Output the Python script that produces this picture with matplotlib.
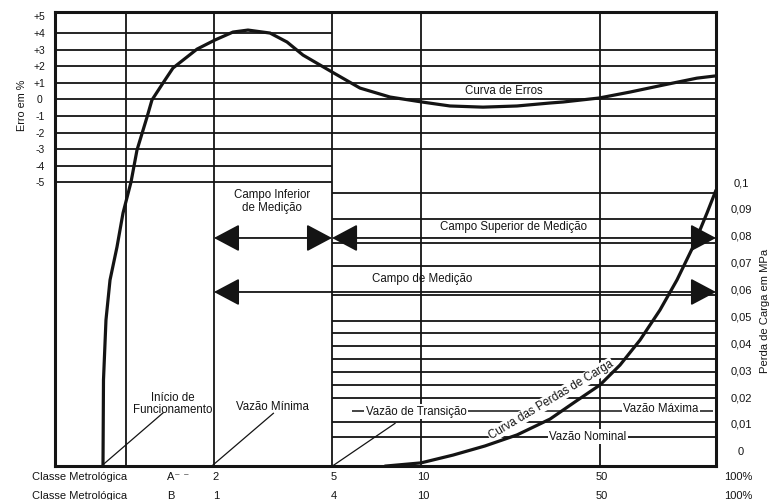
import numpy as np
import matplotlib
matplotlib.use("Agg")
import matplotlib.pyplot as plt
from matplotlib.patches import FancyArrowPatch
from matplotlib.transforms import blended_transform_factory

plt.rcParams['font.family'] = ['Liberation Sans', 'DejaVu Sans']

# ------------------------------------------------------------------ data
# schematic flow axis (class A flow values at the drawn verticals)
flow_breaks = [0, 1, 2, 5, 10, 50, 100]
flow_break_pos = [0.0, 0.1074, 0.2405, 0.4191, 0.5537, 0.8245, 1.0]
vertical_flows = [1, 2, 5, 10, 50]

# error curve (Curva de Erros): flow vs error in %
error_flow = [0.676, 0.683, 0.718, 0.775, 0.873, 0.958, 1.057, 1.125, 1.239,
              1.295, 1.420, 1.534, 1.807, 2.025, 2.483, 2.864, 3.424, 3.856,
              4.263, 5.0, 6.573, 8.258, 10.22, 16.48, 23.85, 31.45, 38.83,
              41.73, 49.78, 62.93, 77.16, 91.81, 99.57]
error_vals = [-22.12, -16.93, -13.31, -10.90, -8.91, -6.86, -4.99, -3.06, -1.07,
              -0.04, 0.98, 1.89, 3.03, 3.58, 4.06, 4.18, 4.00, 3.46,
              2.67, 1.65, 0.68, 0.14, -0.16, -0.40, -0.47, -0.40, -0.22,
              -0.16, 0.08, 0.44, 0.86, 1.28, 1.41]

# head-loss curve (Curva das Perdas de Carga): flow vs MPa
loss_flow = [7.98, 10.0, 17.15, 24.30, 31.45, 38.83, 44.41, 50.0, 58.62,
             67.24, 75.86, 83.19, 90.09, 96.12, 100.0]
loss_vals = [-0.0057, -0.0045, -0.0016, 0.0018, 0.0059, 0.0118, 0.0182, 0.0245,
             0.0319, 0.0412, 0.0524, 0.0636, 0.0759, 0.0885, 0.0970]

# grid levels
error_levels_left = [4, 3, 2, 1, 0, -1, -2, -3, -4, -5]
error_levels_right = [3, 2, 1, 0, -1, -2, -3]
pressure_levels = [0.0959, 0.0863, 0.0774, 0.0688, 0.0580, 0.0483, 0.0438,
                   0.0390, 0.0342, 0.0293, 0.0245, 0.0197, 0.0107, 0.0051]

# ticks
error_ticks = [5, 4, 3, 2, 1, 0, -1, -2, -3, -4, -5]
error_tick_labels = ['+5', '+4', '+3', '+2', '+1', '0', '-1', '-2', '-3', '-4', '-5']
pressure_ticks = [0.1, 0.09, 0.08, 0.07, 0.06, 0.05, 0.04, 0.03, 0.02, 0.01, 0.0]
pressure_tick_labels = ['0,1', '0,09', '0,08', '0,07', '0,06', '0,05', '0,04',
                        '0,03', '0,02', '0,01', '0']
class_ticks_flow = [2, 5, 10, 50, 100]
class_a_labels = ['2', '5', '10', '50', '100%']
class_b_labels = ['1', '4', '10', '50', '100%']

# measuring ranges (flow from, flow to, MPa level)
ranges = [(2, 5, 0.0792), (5, 100, 0.0792), (2, 100, 0.0591)]

ink = '#141414'

# ------------------------------------------------------------------ figure
fig = plt.figure(figsize=(7.73, 5.0), dpi=100)
fig.patch.set_facecolor('white')
ax = fig.add_axes([55 / 773, 34 / 500, 661 / 773, 454 / 500])


def fwd(x):
    return np.interp(x, flow_breaks, flow_break_pos)


def inv(u):
    return np.interp(u, flow_break_pos, flow_breaks)


ax.set_xscale('function', functions=(fwd, inv))
ax.set_xlim(0, 100)
ax.set_ylim(-22.12, 5.27)

ax2 = ax.twinx()
ax2.set_ylim(-0.00566, 0.1633)
ax2.patch.set_visible(False)

for sp in ax.spines.values():
    sp.set_linewidth(2.2)
    sp.set_color(ink)
for sp in ax2.spines.values():
    sp.set_visible(False)

# ticks
ax.set_xticks([])
ax.set_yticks(error_ticks)
ax.set_yticklabels(error_tick_labels)
ax.tick_params(axis='y', length=0, pad=11, labelsize=7.5, colors=ink)
for lbl in ax.get_yticklabels():
    lbl.set_horizontalalignment('center')

ax2.set_yticks(pressure_ticks)
ax2.set_yticklabels(pressure_tick_labels)
ax2.tick_params(axis='y', length=0, pad=18, labelsize=8, colors=ink)
for lbl in ax2.get_yticklabels():
    lbl.set_horizontalalignment('center')

# vertical lines
for f in vertical_flows:
    ax.axvline(f, color=ink, lw=1.3, zorder=1)

# upper grid
ax.hlines(error_levels_left, 0, 5, color=ink, lw=1.3, zorder=1)
ax.hlines(error_levels_right, 5, 100, color=ink, lw=1.3, zorder=1)

# lower grid
ax2.hlines(pressure_levels, 5, 100, color=ink, lw=1.3, zorder=1)

# error curve
ax.plot(error_flow, error_vals, color=ink, lw=2.3, zorder=5,
        solid_joinstyle='round', solid_capstyle='round')

# head-loss curve
ax2.plot(loss_flow, loss_vals, color=ink, lw=2.3, zorder=6,
         solid_joinstyle='round', solid_capstyle='round')

# measuring-range arrows
for f0, f1, lvl in ranges:
    arr = FancyArrowPatch((f0, lvl), (f1, lvl),
                          arrowstyle='<|-|>,head_length=1.6,head_width=0.85',
                          mutation_scale=10, lw=1.3, color=ink,
                          shrinkA=0, shrinkB=0, transform=ax2.transData, zorder=7)
    ax2.add_patch(arr)

fs = 8.3
box = dict(facecolor='white', edgecolor='none', pad=1.0)

# texts in error region
ax.text(28.55, 0.5, 'Curva de Erros', fontsize=fs, ha='center', va='center', color=ink)
ax.text(3.475, -6.17, 'Campo Inferior\nde Medição', fontsize=fs, ha='center',
        va='center', color=ink, linespacing=1.1)
ax.text(30.78, -7.70, 'Campo Superior de Medição', fontsize=fs, ha='center',
        va='center', color=ink)
ax.text(10.22, -10.84, 'Campo de Medição', fontsize=fs, ha='center', va='center',
        color=ink)
ax.text(1.534, -18.37, 'Início de\nFuncionamento', fontsize=fs, ha='center',
        va='center', color=ink, linespacing=1.05)
ax.text(3.475, -18.56, 'Vazão Mínima', fontsize=fs, ha='center', va='center',
        color=ink)

# leaders
ax.plot([0.66, 1.42], [-22.1, -18.92], color=ink, lw=0.9, zorder=3)
ax.plot([1.98, 3.51], [-22.1, -18.94], color=ink, lw=0.9, zorder=3)
ax2.plot([5.06, 8.54], [-0.0055, 0.0102], color=ink, lw=0.9, zorder=3)
ax2.hlines(0.0148, 6.12, 98.7, color=ink, lw=1.1, zorder=2)

# labels in head-loss region
ax2.text(9.72, 0.0146, 'Vazão de Transição', fontsize=fs, ha='center',
         va='center', color=ink, bbox=box, zorder=4)
ax2.text(76.3, 0.0155, 'Vazão Máxima', fontsize=fs, ha='center', va='center',
         color=ink, bbox=box, zorder=4)
ax2.text(47.3, 0.0053, 'Vazão Nominal', fontsize=fs, ha='center', va='center',
         color=ink, bbox=box, zorder=4)
ax2.text(39.05, 0.0189, 'Curva das Perdas de Carga', fontsize=fs, ha='center',
         va='center', color=ink, rotation=31, rotation_mode='anchor',
         bbox=dict(facecolor='white', edgecolor='none', pad=0.6), zorder=4)

# class rows under the chart
trans = blended_transform_factory(ax.transData, ax.transAxes)
for f, la, lb in zip(class_ticks_flow, class_a_labels, class_b_labels):
    if la.endswith('%'):
        ha, dx = 'left', 8
    else:
        ha, dx = 'center', 2
    ax.annotate(la, xy=(f, 0), xycoords=trans, xytext=(dx * 0.72, -8),
                textcoords='offset points', ha=ha, va='center', fontsize=8,
                color=ink, annotation_clip=False)
    ax.annotate(lb, xy=(f, 0), xycoords=trans, xytext=(dx * 0.72, -21.5),
                textcoords='offset points', ha=ha, va='center', fontsize=8,
                color=ink, annotation_clip=False)

fig.text(32 / 773, 1 - 477 / 500, 'Classe Metrológica', fontsize=8, ha='left',
         va='center', color=ink)
fig.text(32 / 773, 1 - 496 / 500, 'Classe Metrológica', fontsize=8, ha='left',
         va='center', color=ink)
fig.text(167 / 773, 1 - 477 / 500, 'A\u207b \u207b', fontsize=8, ha='left',
         va='center', color=ink)
fig.text(167 / 773, 1 - 496 / 500, 'B', fontsize=8, ha='left', va='center',
         color=ink)

# axis titles
fig.text(22 / 773, 1 - 105 / 500, 'Erro em %', fontsize=7.8, rotation=90,
         ha='center', va='center', color=ink)
fig.text(765 / 773, 1 - 311 / 500, 'Perda de Carga em MPa', fontsize=8.1,
         rotation=90, ha='center', va='center', color=ink)

fig.savefig('out.png', dpi=100, facecolor='white')
